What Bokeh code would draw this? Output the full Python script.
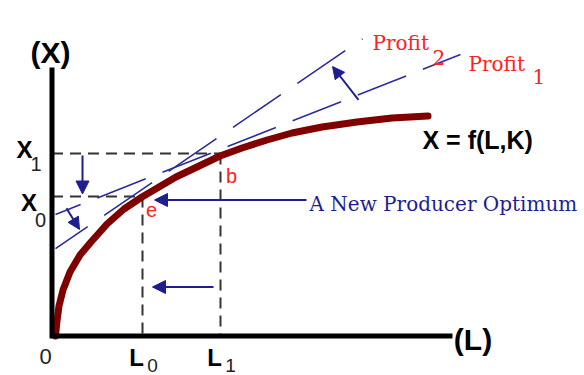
from bokeh.plotting import figure
from bokeh.models import Range1d, Arrow, NormalHead
from bokeh.core.properties import value
from bokeh.embed import file_html
from bokeh.resources import INLINE

# Diagram units: labour L along the horizontal, output X along the vertical.
# Production function X = f(L, K)
curve_L = [0.35, 0.5, 0.7, 1.1, 1.8, 2.8, 3.9, 5.5, 7.2, 9.0, 10.7, 12.4,
           14.5, 16.8, 19.0, 21.5, 24.0, 27.0, 30.5, 34.0, 37.6]
curve_X = [0.0, 1.5, 3.0, 4.6, 6.4, 8.1, 9.4, 11.2, 12.7, 13.9, 14.9, 15.9,
           16.9, 18.0, 18.8, 19.6, 20.3, 20.9, 21.4, 21.8, 22.0]

# Old (1) and new (0) optimum levels
L_levels = [9.05, 16.85]     # L0, L1
X_levels = [13.95, 18.25]    # X0, X1
level_subs = ["0", "1"]

# Iso-profit lines
profit1_L = [0.35, 40.85]
profit1_X = [12.15, 28.15]
profit2_L = [0.35, 31.05]
profit2_X = [8.73, 29.72]

axis_L_max = 40.05
axis_X_max = 26.85

NAVY = "#1e1e8e"
LINE_BLUE = "#2c2c9c"
RED = "#ff2020"
MAROON = "#800000"
SANS = value("Liberation Sans")
SERIF = value("DejaVu Serif")


def on_line(Ls, Xs, L):
    slope = (Xs[1] - Xs[0]) / (Ls[1] - Ls[0])
    return Xs[0] + slope * (L - Ls[0])


p = figure(width=584, height=375, output_backend="svg", toolbar_location=None,
           x_range=Range1d(-5.15, 53.25), y_range=Range1d(-3.95, 33.55),
           x_axis_type=None, y_axis_type=None, min_border=0)
p.grid.visible = False
p.outline_line_color = None
p.background_fill_color = "white"
p.border_fill_color = "white"

L0, L1 = L_levels
X0, X1 = X_levels

# Guide lines from the axes to both optima
dash_kw = dict(line_color="#333333", line_width=2, line_dash="11 7")
p.line([0, L1], [X1, X1], **dash_kw)
p.line([0, L0], [X0, X0], **dash_kw)
p.line([L0, L0], [X0, 0], **dash_kw)
p.line([L1, L1], [X1, 0], **dash_kw)

# Production function
p.line(curve_L, curve_X, line_color=MAROON, line_width=7, line_cap="round",
       line_join="round")

# Iso-profit lines
p.line(profit1_L, profit1_X, line_color=LINE_BLUE, line_width=1.6,
       line_dash="52 18", line_dash_offset=25)
p.line(profit2_L, profit2_X, line_color=LINE_BLUE, line_width=1.6,
       line_dash="58 20", line_dash_offset=19)

# Axes
p.line([0, 0, axis_L_max], [axis_X_max, 0, 0], line_color="black",
       line_width=5, line_join="miter")


def arrow(x0, y0, x1, y1, size=13):
    p.add_layout(Arrow(end=NormalHead(size=size, fill_color=NAVY,
                                      line_color=NAVY, line_width=1),
                       x_start=x0, y_start=y0, x_end=x1, y_end=y1,
                       line_color=NAVY, line_width=2))


# Output falls from X1 to X0
arrow(3.05, X1 - 0.2, 3.05, X0 + 0.25)
# Labour falls from L1 to L0
arrow(L1 - 0.7, 4.9, L0 + 1.0, 4.9)
# Pointer from the caption to the new optimum
arrow(25.45, X0 - 0.35, L0 + 1.2, X0 - 0.35)
# Iso-profit line turns steeper
arrow(1.45, on_line(profit1_L, profit1_X, 1.45) + 0.2, 2.75, 10.65, size=12)
arrow(30.65, on_line(profit1_L, profit1_X, 30.65) - 0.5, 28.05, 26.95, size=12)

# Axis titles
p.text([-0.15], [28.35], text=["(X)"], text_font=SANS, text_font_style="bold",
       text_font_size="30px", text_align="center", text_baseline="middle")
p.text([axis_L_max + 2.05], [-0.35], text=["(L)"], text_font=SANS,
       text_font_style="bold", text_font_size="30px", text_align="center",
       text_baseline="middle")
p.text([-0.65], [-2.05], text=["0"], text_font=SANS, text_font_size="22px",
       text_align="center", text_baseline="middle", text_color="#222222")

# Tick labels L0, L1 and X0, X1
p.text([v - 0.6 for v in L_levels], [-2.1, -2.1], text=["L", "L"],
       text_font=SANS, text_font_style="bold", text_font_size="24px",
       text_align="center", text_baseline="middle")
p.text([v + 1.0 for v in L_levels], [-2.95, -2.95], text=level_subs,
       text_font=SANS, text_font_size="19px", text_align="center",
       text_baseline="middle", text_color="#222222")
p.text([-2.3, -2.75], [X0 - 0.55, X1 + 0.45],
       text=["X", "X"], text_font=SANS, text_font_style="bold",
       text_font_size="24px", text_align="center", text_baseline="middle")
p.text([-1.15, -1.6], [X0 - 2.35, X1 - 1.0], text=level_subs,
       text_font=SANS, text_font_size="20px", text_align="center",
       text_baseline="middle", text_color="#222222")

# Curve label and points
p.text([37.05], [19.65], text=["X = f(L,K)"], text_font=SANS,
       text_font_style="bold", text_font_size="25px", text_align="left",
       text_baseline="middle")
p.text([L1 + 1.1, L0 + 0.9], [X1 - 2.2, X0 - 1.3], text=["b", "e"],
       text_font=SANS, text_font_size="20px", text_color=RED,
       text_align="center", text_baseline="middle")

p.text([25.75], [13.25], text=["A New Producer Optimum"], text_font=SERIF,
       text_font_size="20px", text_color=NAVY, text_align="left",
       text_baseline="alphabetic")

# Iso-profit labels
p.text([32.05, 41.65], [29.35, 27.25], text=["Profit", "Profit"],
       text_font=SERIF, text_font_size="20px", text_color=RED,
       text_align="left", text_baseline="alphabetic")
p.text([38.05, 48.05], [27.85, 25.95], text=["2", "1"], text_font=SERIF,
       text_font_size="20px", text_color=RED, text_align="left",
       text_baseline="alphabetic")

open("out.html", "w").write(file_html(p, INLINE))
